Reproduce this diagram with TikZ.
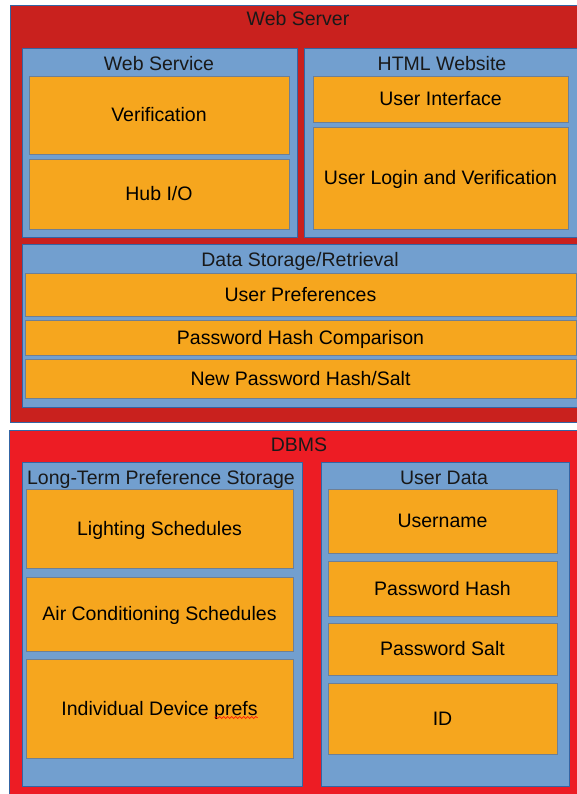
\documentclass[tikz,border=0pt]{standalone}
\usepackage{fontspec}
\setmainfont{Liberation Sans}
\usepackage{tikz}
\usetikzlibrary{decorations.pathmorphing}
\definecolor{serverred}{HTML}{C9211E}
\definecolor{dbred}{HTML}{ED1C24}
\definecolor{groupblue}{HTML}{729FCF}
\definecolor{edgeblue}{HTML}{3465A4}
\definecolor{itemorange}{HTML}{F6A61E}
\definecolor{itemedge}{HTML}{6E7F95}
\tikzstyle{tier} = [rectangle, anchor=north west, inner sep=0pt, outer sep=0pt, draw=edgeblue, line width=0.8pt]
\tikzstyle{group} = [rectangle, anchor=north west, inner sep=0pt, outer sep=0pt, draw=edgeblue, fill=groupblue, line width=0.8pt]
\tikzstyle{item} = [rectangle, anchor=north west, inner sep=0pt, outer sep=0pt, text height=13.8pt, text depth=0pt, draw=itemedge, fill=itemorange, line width=0.8pt]
\tikzstyle{title} = [inner sep=0pt, text height=13.8pt, text depth=0pt, text=black!90]

\begin{document}
\begin{tikzpicture}[x=1pt, y=-1pt, every node/.style={font=\fontsize{19.5pt}{23pt}\selectfont}]
    \useasboundingbox[fill=white] (0,0) rectangle (577,794);

    % web server tier
    \node (server) [tier, fill=serverred, minimum width=572pt, minimum height=417pt] at (10,5) {};
    \node (servertitle) [title] at (298,19) {Web Server};

    \node (websvc) [group, minimum width=275pt, minimum height=189pt] at (22,48) {};
    \node (websvctitle) [title] at (159,63.5) {Web Service};
    \node (verif) [item, minimum width=260pt, minimum height=78pt] at (29,76) {Verification};
    \node (hubio) [item, minimum width=260pt, minimum height=70pt] at (29,159) {Hub I/O};

    \node (html) [group, minimum width=278pt, minimum height=189pt] at (304,48) {};
    \node (htmltitle) [title] at (442,63.5) {HTML Website};
    \node (ui) [item, minimum width=255pt, minimum height=46pt] at (313,76) {User Interface};
    \node (login) [item, minimum width=255pt, minimum height=102pt] at (313,127) {User Login and Verification};

    \node (storage) [group, minimum width=560pt, minimum height=163pt] at (22,244) {};
    \node (storagetitle) [title] at (300,260) {Data Storage/Retrieval};
    \node (userprefs) [item, minimum width=551pt, minimum height=43pt] at (25,273) {User Preferences};
    \node (hashcmp) [item, minimum width=551pt, minimum height=35pt] at (25,320) {Password Hash Comparison};
    \node (newhash) [item, minimum width=551pt, minimum height=39pt] at (25,359) {New Password Hash/Salt};

    % database tier
    \node (dbms) [tier, fill=dbred, minimum width=573pt, minimum height=370pt] at (9,430) {};
    \node (dbmstitle) [title] at (299,445) {DBMS};

    \node (longterm) [group, minimum width=280pt, minimum height=324pt] at (22,462) {};
    \node (longtermtitle) [title] at (161,477.5) {Long-Term Preference Storage};
    \node (lighting) [item, minimum width=267pt, minimum height=79pt] at (26,489) {Lighting Schedules};
    \node (aircon) [item, minimum width=267pt, minimum height=74pt] at (26,577) {Air Conditioning Schedules};
    \node (indiv) [item, minimum width=267pt, minimum height=99pt] at (26,659) {Individual Device prefs};
    \draw [red, line width=0.6pt, decorate, decoration={snake, amplitude=1pt, segment length=4pt}]
        ([xshift=55pt, yshift=-9pt]indiv.center) -- ++(43,0);

    \node (userdata) [group, minimum width=248pt, minimum height=324pt] at (321,462) {};
    \node (userdatatitle) [title] at (444,477.5) {User Data};
    \node (username) [item, minimum width=229pt, minimum height=64pt] at (328,489) {Username};
    \node (pwhash) [item, minimum width=229pt, minimum height=55pt] at (328,561) {Password Hash};
    \node (pwsalt) [item, minimum width=229pt, minimum height=52pt] at (328,623) {Password Salt};
    \node (id) [item, minimum width=229pt, minimum height=71pt] at (328,683) {ID};
\end{tikzpicture}
\end{document}
